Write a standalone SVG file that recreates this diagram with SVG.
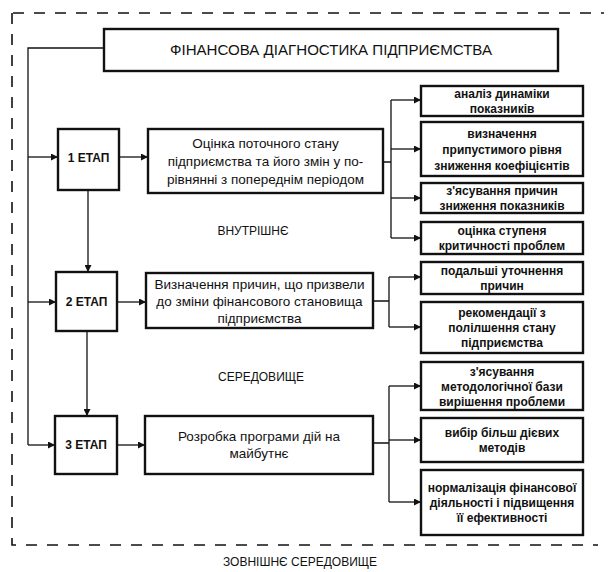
<svg xmlns="http://www.w3.org/2000/svg" width="608" height="572" viewBox="0 0 608 572">
<defs>
<marker id="ah" viewBox="0 0 10 10" refX="10" refY="5" markerWidth="8" markerHeight="7" markerUnits="userSpaceOnUse" orient="auto">
<path d="M0,0 L10,5 L0,10 z" fill="#111"/>
</marker>
</defs>
<style>
.box{fill:#fff;stroke:#111;stroke-width:2.4}
.ln{fill:none;stroke:#111;stroke-width:1.3}
.arr{fill:none;stroke:#111;stroke-width:1.3;marker-end:url(#ah)}
.frame{fill:none;stroke:#111;stroke-width:1.6;stroke-dasharray:11 10}
text{font-family:"Liberation Sans",Arial,sans-serif;fill:#111;text-anchor:middle}
.t{font-size:14px}
.st{font-size:12px;font-weight:bold}
.m{font-size:13.5px}
.r{font-size:12px;font-weight:bold}
.lab{font-size:12px}
</style>
<rect width="608" height="572" fill="#fff"/>
<g id="frame">
<path class="frame" d="M13,13 H604"/>
<path class="frame" d="M12,13 V545 H598"/>
</g>
<g id="connectors">
<path class="ln" d="M104,48 H28 V445"/>
<path class="arr" d="M28,157 H58"/>
<path class="arr" d="M28,302 H56"/>
<path class="arr" d="M28,445 H55"/>
<path class="arr" d="M119,157 H148"/>
<path class="arr" d="M117,302 H146"/>
<path class="arr" d="M117,445 H145"/>
<path class="arr" d="M88,190 V272"/>
<path class="arr" d="M87,331 V416"/>
<path class="ln" d="M383,162 H391 M391,100 V238"/>
<path class="arr" d="M391,100 H421"/>
<path class="arr" d="M391,149 H421"/>
<path class="arr" d="M391,198 H421"/>
<path class="arr" d="M391,238 H421"/>
<path class="ln" d="M373,301 H389 M389,277 V327"/>
<path class="arr" d="M389,277 H421"/>
<path class="arr" d="M389,327 H421"/>
<path class="ln" d="M373,443 H389 M389,386 V502"/>
<path class="arr" d="M389,386 H421"/>
<path class="arr" d="M389,440 H421"/>
<path class="arr" d="M389,502 H421"/>
</g>
<g id="title">
<rect class="box" x="104" y="29" width="454" height="42"/>
<text class="t" x="331" y="55" textLength="322" lengthAdjust="spacingAndGlyphs">ФІНАНСОВА ДІАГНОСТИКА ПІДПРИЄМСТВА</text>
</g>
<g id="stage1">
<rect class="box" x="58" y="129" width="61" height="61"/>
<text class="st" x="88.5" y="162">1 ЕТАП</text>
</g>
<g id="stage2">
<rect class="box" x="56" y="272" width="61" height="59"/>
<text class="st" x="86.5" y="306">2 ЕТАП</text>
</g>
<g id="stage3">
<rect class="box" x="55" y="416" width="62" height="58"/>
<text class="st" x="86" y="449">3 ЕТАП</text>
</g>
<g id="task1">
<rect class="box" x="148" y="129" width="235" height="64"/>
<text class="m" x="265.5" y="148">Оцінка поточного стану</text>
<text class="m" x="265.5" y="166">підприємства та його змін у по-</text>
<text class="m" x="265.5" y="184">рівнянні з попереднім періодом</text>
</g>
<g id="task2">
<rect class="box" x="146" y="273" width="227" height="55"/>
<text class="m" x="259.5" y="289">Визначення причин, що призвели</text>
<text class="m" x="259.5" y="306">до зміни фінансового становища</text>
<text class="m" x="259.5" y="323">підприємства</text>
</g>
<g id="task3">
<rect class="box" x="145" y="416" width="228" height="58"/>
<text class="m" x="259" y="441">Розробка програми дій на</text>
<text class="m" x="259" y="458">майбутнє</text>
</g>
<g id="r1">
<rect class="box" x="421" y="86" width="162" height="30"/>
<text class="r" x="502" y="98">аналіз динаміки</text>
<text class="r" x="502" y="113">показників</text>
</g>
<g id="r2">
<rect class="box" x="421" y="122" width="162" height="54"/>
<text class="r" x="502" y="138">визначення</text>
<text class="r" x="502" y="154">припустимого рівня</text>
<text class="r" x="502" y="170">зниження коефіцієнтів</text>
</g>
<g id="r3">
<rect class="box" x="421" y="183" width="162" height="30"/>
<text class="r" x="502" y="195">з'ясування причин</text>
<text class="r" x="502" y="210">зниження показників</text>
</g>
<g id="r4">
<rect class="box" x="421" y="222" width="162" height="32"/>
<text class="r" x="502" y="235">оцінка ступеня</text>
<text class="r" x="502" y="250">критичності проблем</text>
</g>
<g id="r5">
<rect class="box" x="421" y="262" width="162" height="32"/>
<text class="r" x="502" y="275">подальші уточнення</text>
<text class="r" x="502" y="290">причин</text>
</g>
<g id="r6">
<rect class="box" x="421" y="302" width="162" height="51"/>
<text class="r" x="502" y="317">рекомендації з</text>
<text class="r" x="502" y="332">полілшення стану</text>
<text class="r" x="502" y="347">підприємства</text>
</g>
<g id="r7">
<rect class="box" x="421" y="362" width="162" height="48"/>
<text class="r" x="502" y="376">з'ясування</text>
<text class="r" x="502" y="391">методологічної бази</text>
<text class="r" x="502" y="406">вирішення проблеми</text>
</g>
<g id="r8">
<rect class="box" x="421" y="418" width="162" height="44"/>
<text class="r" x="502" y="437">вибір більш дієвих</text>
<text class="r" x="502" y="452">методів</text>
</g>
<g id="r9">
<rect class="box" x="421" y="470" width="162" height="65"/>
<text class="r" x="502" y="492">нормалізація фінансової</text>
<text class="r" x="502" y="507">діяльності і підвищення</text>
<text class="r" x="502" y="522">її ефективності</text>
</g>
<g id="labels">
<text class="lab" x="253" y="235">ВНУТРІШНЄ</text>
<text class="lab" x="261" y="381">СЕРЕДОВИЩЕ</text>
<text class="lab" x="300" y="566">ЗОВНІШНЄ СЕРЕДОВИЩЕ</text>
</g>
</svg>
